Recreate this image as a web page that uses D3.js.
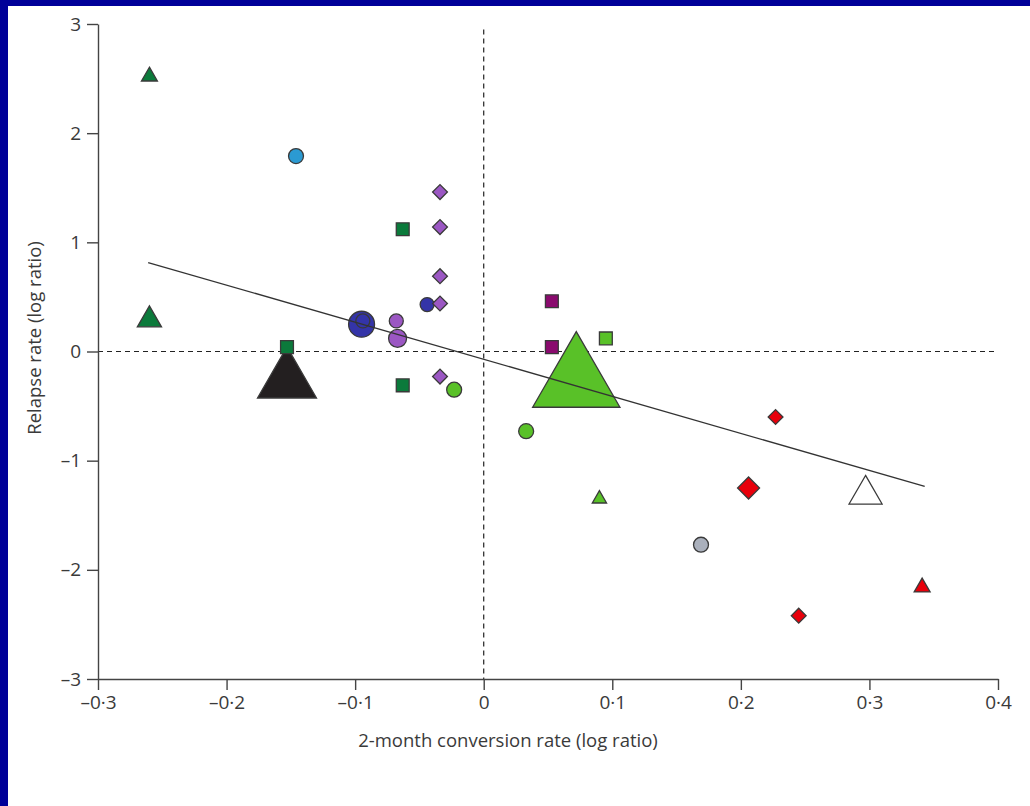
<!DOCTYPE html>
<html>
<head>
<meta charset="utf-8">
<script src="https://cdn.jsdelivr.net/npm/d3@7"></script>
<style>
  html, body { margin: 0; padding: 0; background: #fff; }
  svg { display: block; }
  text { font-family: "Open Sans", "Liberation Sans", sans-serif; fill: #3a3a3a; }
</style>
</head>
<body>
<svg id="chart" width="1030" height="806"></svg>
<script>
// Study-level estimates: 2-month conversion (log ratio) vs relapse (log ratio)
const conversion = [-0.260, -0.146, -0.260, -0.063, -0.153, -0.153, -0.095, -0.094, -0.044, -0.068,
                    -0.067, -0.034, -0.034, -0.034, -0.034, -0.034, -0.063, -0.023, 0.033, 0.072,
                     0.053, 0.053, 0.095, 0.090, 0.227, 0.206, 0.245, 0.169, 0.297, 0.341];
const relapse    = [2.52, 1.79, 0.29, 1.12, 0.04, -0.27, 0.25, 0.28, 0.43, 0.28,
                    0.12, 1.46, 1.14, 0.69, 0.44, -0.23, -0.31, -0.35, -0.73, -0.28,
                    0.46, 0.04, 0.12, -1.35, -0.60, -1.25, -2.42, -1.77, -1.31, -2.16];
// relative study weight (marker area)
const weight     = [1.0, 1.6, 2.3, 1.5, 1.5, 13.7, 4.8, 1.4, 1.4, 1.4,
                    2.3, 1.0, 1.0, 1.0, 1.0, 1.0, 1.5, 1.6, 1.6, 30,
                    1.5, 1.5, 1.5, 0.8, 1.0, 2.2, 1.0, 1.6, 4.3, 1.0];
const marker     = ["triangle", "circle", "triangle", "square", "square", "triangle", "circle", "circle", "circle", "circle",
                    "circle", "diamond", "diamond", "diamond", "diamond", "diamond", "square", "circle", "circle", "triangle",
                    "square", "square", "square", "triangle", "diamond", "diamond", "diamond", "circle", "triangle", "triangle"];
const regimen    = ["A", "B", "A", "A", "A", "C", "D", "D", "D", "E",
                    "E", "E", "E", "E", "E", "E", "A", "F", "F", "F",
                    "G", "G", "F", "F", "H", "H", "H", "I", "J", "H"];

// Fitted meta-regression line endpoints
const fitX = [-0.261, 0.343];
const fitY = [0.815, -1.236];

const xTicks = [-0.3, -0.2, -0.1, 0, 0.1, 0.2, 0.3, 0.4];
const yTicks = [-3, -2, -1, 0, 1, 2, 3];

const regimenColour = {
  A: "#0b7a3b", B: "#2b9ad2", C: "#231f20", D: "#3434a8", E: "#9b57c3",
  F: "#59c128", G: "#8a0a6e", H: "#e8000b", I: "#aab0bc", J: "#ffffff"
};

const W = 1030, H = 806;
const margin = { left: 98, top: 24, right: 32, bottom: 127 };
const svg = d3.select("#chart");

// frame
svg.append("rect").attr("width", W).attr("height", H).attr("fill", "#000099");
svg.append("rect").attr("x", 8).attr("y", 6).attr("width", W - 8).attr("height", H - 6).attr("fill", "#fff");

const x = d3.scaleLinear().domain([-0.3, 0.4]).range([margin.left, W - margin.right]);
const y = d3.scaleLinear().domain([-3, 3]).range([H - margin.bottom, margin.top]);

const sign = v => v < 0 ? "\u2013" : "";
const fmtX = v => v === 0 ? "0" : sign(v) + Math.abs(v).toFixed(1).replace(".", "\u00b7");
const fmtY = v => sign(v) + Math.abs(v);

// reference lines
svg.append("line")
  .attr("x1", x(0)).attr("x2", x(0))
  .attr("y1", y(2.95)).attr("y2", y(-3))
  .attr("stroke", "#222").attr("stroke-width", 1.2).attr("stroke-dasharray", "5,4");
svg.append("line")
  .attr("x1", x(-0.3)).attr("x2", x(0.4))
  .attr("y1", y(0)).attr("y2", y(0))
  .attr("stroke", "#222").attr("stroke-width", 1.2).attr("stroke-dasharray", "5,4");

// axes
const xAxis = svg.append("g")
  .attr("transform", `translate(0,${y(-3)})`)
  .call(d3.axisBottom(x).tickValues(xTicks).tickFormat(fmtX).tickSize(11).tickSizeOuter(0).tickPadding(6));
const yAxis = svg.append("g")
  .attr("transform", `translate(${x(-0.3)},0)`)
  .call(d3.axisLeft(y).tickValues(yTicks).tickFormat(fmtY).tickSize(11).tickSizeOuter(0).tickPadding(6));

[xAxis, yAxis].forEach(g => {
  g.select(".domain").attr("stroke", "#444").attr("stroke-width", 1.4);
  g.selectAll(".tick line").attr("stroke", "#444").attr("stroke-width", 1.4);
  g.selectAll(".tick text").style("font-size", "19px").attr("fill", "#3a3a3a")
    .style("font-family", "\"Open Sans\", sans-serif");
});

// axis titles
svg.append("text")
  .attr("x", 508).attr("y", 747)
  .attr("text-anchor", "middle")
  .style("font-size", "18.5px")
  .text("2-month conversion rate (log ratio)");
svg.append("text")
  .attr("transform", `translate(41,338) rotate(-90)`)
  .attr("text-anchor", "middle")
  .style("font-size", "18.5px")
  .text("Relapse rate (log ratio)");

// markers, largest first so small studies stay visible
const unitArea = 110;
const symbolType = { triangle: d3.symbolTriangle, circle: d3.symbolCircle, square: d3.symbolSquare, diamond: d3.symbolSquare };
const points = conversion.map((cx, i) => ({ cx, cy: relapse[i], w: weight[i], m: marker[i], g: regimen[i] }))
  .sort((a, b) => b.w - a.w);

svg.append("g").selectAll("path")
  .data(points)
  .join("path")
  .attr("d", d => d3.symbol().type(symbolType[d.m]).size(d.w * unitArea)())
  .attr("transform", d => `translate(${x(d.cx)},${y(d.cy)})` + (d.m === "diamond" ? " rotate(45)" : ""))
  .attr("fill", d => regimenColour[d.g])
  .attr("stroke", "#3a3a3a")
  .attr("stroke-width", 1.3)
  .attr("stroke-linejoin", "miter");

// fitted line
svg.append("line")
  .attr("x1", x(fitX[0])).attr("y1", y(fitY[0]))
  .attr("x2", x(fitX[1])).attr("y2", y(fitY[1]))
  .attr("stroke", "#333").attr("stroke-width", 1.3);
</script>
</body>
</html>
